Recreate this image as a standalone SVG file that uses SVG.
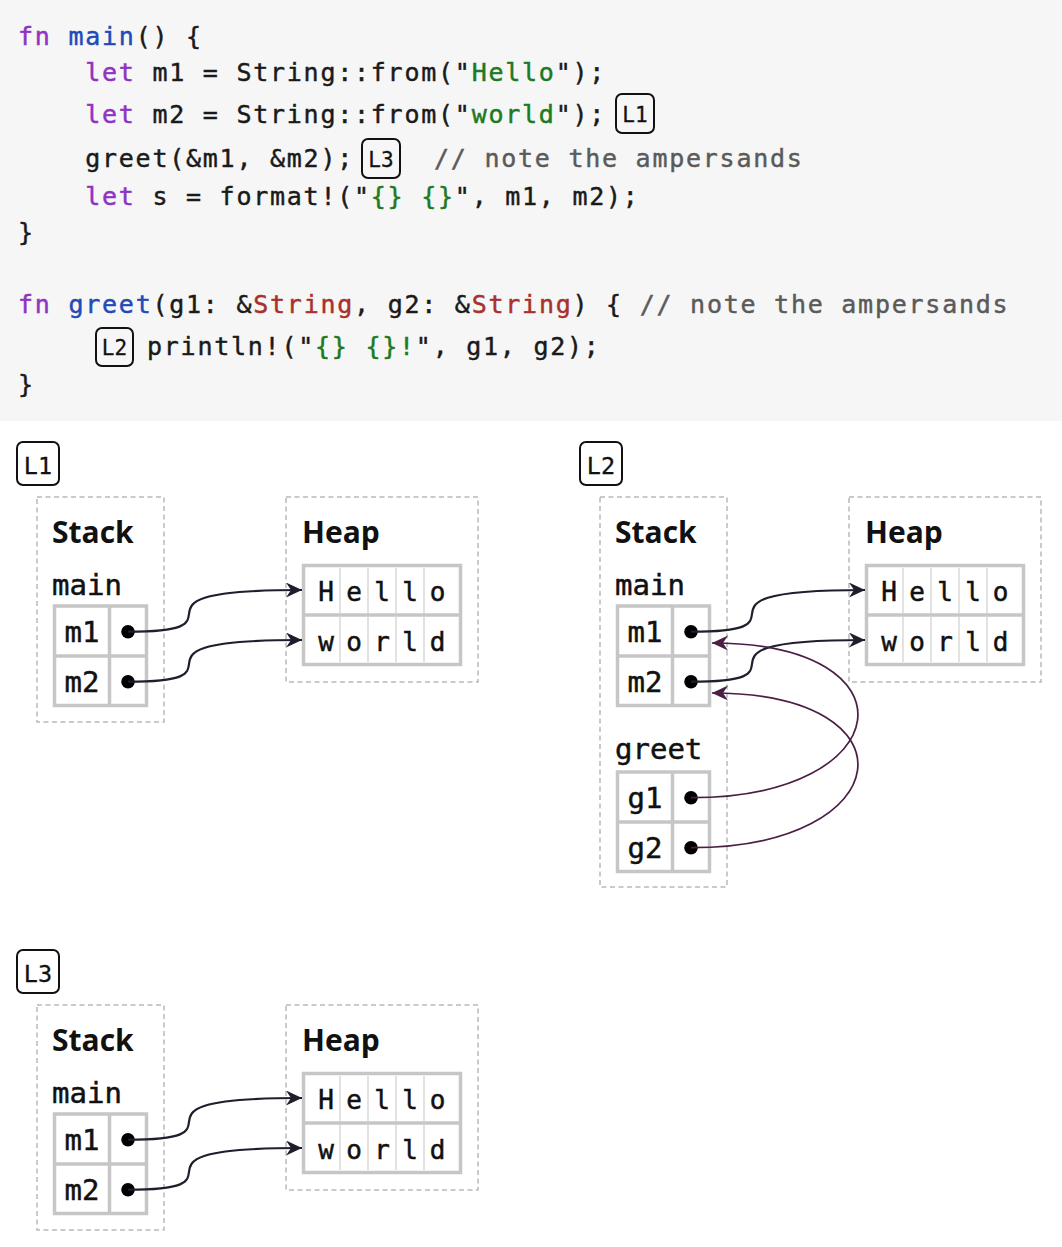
<svg xmlns="http://www.w3.org/2000/svg" width="1062" height="1247" viewBox="0 0 1062 1247">
<style>
.code{font-family:"DejaVu Sans Mono","Liberation Mono",monospace;font-size:25px;letter-spacing:1.75px;fill:#1a1a1a;stroke:#1a1a1a;stroke-width:0.45;white-space:pre}
.kw{fill:#9033c2;stroke:#9033c2}.fnn{fill:#1f4ab8;stroke:#1f4ab8}.str{fill:#1c7a22;stroke:#1c7a22}.ty{fill:#a8312b;stroke:#a8312b}.cm{fill:#5a5a5a;stroke:#5a5a5a}
.lbox{fill:none;stroke:#111;stroke-width:2}
.ltxt{font-family:"DejaVu Sans Mono","Liberation Mono",monospace;font-size:21px;fill:#111;stroke:#111;stroke-width:0.3;text-anchor:middle}
.ltxt2{font-family:"DejaVu Sans Mono","Liberation Mono",monospace;font-size:23.5px;fill:#111;stroke:#111;stroke-width:0.3;text-anchor:middle}
.region{fill:none;stroke:#b9b9b9;stroke-width:1.5;stroke-dasharray:5 3.5}
.title{font-family:"Open Sans","Noto Sans",sans-serif;font-weight:700;font-size:30px;fill:#111}
.mono{font-family:"DejaVu Sans Mono","Liberation Mono",monospace;font-size:29px;fill:#111;stroke:#111;stroke-width:0.5}
.cell{font-family:"DejaVu Sans Mono","Liberation Mono",monospace;font-size:29px;fill:#111;stroke:#111;stroke-width:0.5;text-anchor:middle}
.chr{font-family:"DejaVu Sans Mono","Liberation Mono",monospace;font-size:26px;fill:#111;stroke:#111;stroke-width:0.5;text-anchor:middle}
.tbl{fill:#fff;stroke:#c6c6c6;stroke-width:3.5}
.sep{stroke:#c6c6c6;stroke-width:3.5}
.thin{stroke:#cfcfcf;stroke-width:1.2}
.dot{fill:#000}
.fwd{fill:none;stroke:#1e1e2c;stroke-width:2.2;marker-end:url(#ah-dark)}
.back{fill:none;stroke:#4a1f44;stroke-width:1.7;marker-end:url(#ah-plum)}
</style>
<defs>
<marker id="ah-dark" markerUnits="userSpaceOnUse" markerWidth="18" markerHeight="16" refX="16" refY="7.5" orient="auto">
<path d="M0,0 L16,7.5 L0,15 L5,7.5 Z" fill="#1e1e2c"/>
</marker>
<marker id="ah-plum" markerUnits="userSpaceOnUse" markerWidth="18" markerHeight="16" refX="16" refY="7.5" orient="auto">
<path d="M0,0 L16,7.5 L0,15 L5,7.5 Z" fill="#4a1f44"/>
</marker>
</defs>
<rect x="0" y="0" width="1062" height="1247" fill="#fff"/>
<g id="code">
<rect x="0" y="0" width="1062" height="421" fill="#f6f6f6"/>
<text class="code" x="18" y="44.5"><tspan class="kw">fn</tspan> <tspan class="fnn">main</tspan>() {</text>
<text class="code" x="85.2" y="80.5"><tspan class="kw">let</tspan> m1 = String::from("<tspan class="str">Hello</tspan>");</text>
<text class="code" x="85.2" y="122.5"><tspan class="kw">let</tspan> m2 = String::from("<tspan class="str">world</tspan>");</text>
<g id="code-L1"><rect class="lbox" x="616" y="94" width="38" height="39" rx="6"/><text class="ltxt" x="635" y="121.5">L1</text></g>
<text class="code" x="85.2" y="166.5">greet(&amp;m1, &amp;m2);</text>
<g id="code-L3"><rect class="lbox" x="362" y="139" width="38" height="39" rx="6"/><text class="ltxt" x="381" y="166.5">L3</text></g>
<text class="code cm" x="434" y="166.5">// note the ampersands</text>
<text class="code" x="85.2" y="204.5"><tspan class="kw">let</tspan> s = format!("<tspan class="str">{} {}</tspan>", m1, m2);</text>
<text class="code" x="18" y="240.5">}</text>
<text class="code" x="18" y="312.5"><tspan class="kw">fn</tspan> <tspan class="fnn">greet</tspan>(g1: &amp;<tspan class="ty">String</tspan>, g2: &amp;<tspan class="ty">String</tspan>) { <tspan class="cm">// note the ampersands</tspan></text>
<g id="code-L2"><rect class="lbox" x="96" y="328" width="37" height="38" rx="6"/><text class="ltxt" x="114.5" y="354.5">L2</text></g>
<text class="code" x="147" y="354.5">println!("<tspan class="str">{} {}!</tspan>", g1, g2);</text>
<text class="code" x="18" y="392.5">}</text>
</g>

<g id="panel-L1">
<g id="L1-label"><rect class="lbox" x="17" y="442" width="42" height="43" rx="6"/><text class="ltxt2" x="38" y="474">L1</text></g>
<g id="L1-stack">
<rect class="region" x="37" y="497" width="127" height="225"/>
<text class="title" x="52" y="543">Stack</text>
<text class="mono" x="52" y="595">main</text>
<rect class="tbl" x="54.5" y="606" width="92" height="99.5"/>
<line class="sep" x1="54.5" y1="656" x2="146.5" y2="656"/>
<line class="sep" x1="109.5" y1="606" x2="109.5" y2="705.5"/>
<text class="cell" x="82" y="641.5">m1</text><text class="cell" x="82" y="691.5">m2</text>
<circle class="dot" cx="128" cy="631.7" r="6.8"/><circle class="dot" cx="128" cy="681.7" r="6.8"/>
</g>
<g id="L1-heap">
<rect class="region" x="286" y="497" width="192" height="185"/>
<text class="title" x="302" y="543">Heap</text>
<rect class="tbl" x="303.5" y="565.5" width="157" height="99"/>
<line class="sep" x1="303.5" y1="615" x2="460.5" y2="615"/>
<g class="thin"><line x1="340" y1="568" x2="340" y2="613"/><line x1="368" y1="568" x2="368" y2="613"/><line x1="396" y1="568" x2="396" y2="613"/><line x1="424" y1="568" x2="424" y2="613"/>
<line x1="340" y1="617" x2="340" y2="662"/><line x1="368" y1="617" x2="368" y2="662"/><line x1="396" y1="617" x2="396" y2="662"/><line x1="424" y1="617" x2="424" y2="662"/></g>
<text class="chr" y="600.5"><tspan x="326">H</tspan><tspan x="354">e</tspan><tspan x="382">l</tspan><tspan x="410">l</tspan><tspan x="437.5">o</tspan></text>
<text class="chr" y="650.5"><tspan x="326">w</tspan><tspan x="354">o</tspan><tspan x="382">r</tspan><tspan x="410">l</tspan><tspan x="437.5">d</tspan></text>
</g>
</g>

<g id="panel-L2" transform="translate(563,0)">
<g id="L2-label"><rect class="lbox" x="17" y="442" width="42" height="43" rx="6"/><text class="ltxt2" x="38" y="474">L2</text></g>
<g id="L2-stack">
<rect class="region" x="37" y="497" width="127" height="390"/>
<text class="title" x="52" y="543">Stack</text>
<text class="mono" x="52" y="595">main</text>
<rect class="tbl" x="54.5" y="606" width="92" height="99.5"/>
<line class="sep" x1="54.5" y1="656" x2="146.5" y2="656"/>
<line class="sep" x1="109.5" y1="606" x2="109.5" y2="705.5"/>
<text class="cell" x="82" y="641.5">m1</text><text class="cell" x="82" y="691.5">m2</text>
<circle class="dot" cx="128" cy="631.7" r="6.8"/><circle class="dot" cx="128" cy="681.7" r="6.8"/>
<text class="mono" x="52" y="759">greet</text>
<rect class="tbl" x="54.5" y="772" width="92" height="99.5"/>
<line class="sep" x1="54.5" y1="822" x2="146.5" y2="822"/>
<line class="sep" x1="109.5" y1="772" x2="109.5" y2="871.5"/>
<text class="cell" x="82" y="807.5">g1</text><text class="cell" x="82" y="857.5">g2</text>
<circle class="dot" cx="128" cy="797.7" r="6.8"/><circle class="dot" cx="128" cy="847.7" r="6.8"/>
</g>
<g id="L2-heap">
<rect class="region" x="286" y="497" width="192" height="185"/>
<text class="title" x="302" y="543">Heap</text>
<rect class="tbl" x="303.5" y="565.5" width="157" height="99"/>
<line class="sep" x1="303.5" y1="615" x2="460.5" y2="615"/>
<g class="thin"><line x1="340" y1="568" x2="340" y2="613"/><line x1="368" y1="568" x2="368" y2="613"/><line x1="396" y1="568" x2="396" y2="613"/><line x1="424" y1="568" x2="424" y2="613"/>
<line x1="340" y1="617" x2="340" y2="662"/><line x1="368" y1="617" x2="368" y2="662"/><line x1="396" y1="617" x2="396" y2="662"/><line x1="424" y1="617" x2="424" y2="662"/></g>
<text class="chr" y="600.5"><tspan x="326">H</tspan><tspan x="354">e</tspan><tspan x="382">l</tspan><tspan x="410">l</tspan><tspan x="437.5">o</tspan></text>
<text class="chr" y="650.5"><tspan x="326">w</tspan><tspan x="354">o</tspan><tspan x="382">r</tspan><tspan x="410">l</tspan><tspan x="437.5">d</tspan></text>
</g>
</g>

<g id="panel-L3" transform="translate(0,508)">
<g id="L3-label"><rect class="lbox" x="17" y="442" width="42" height="43" rx="6"/><text class="ltxt2" x="38" y="474">L3</text></g>
<g id="L3-stack">
<rect class="region" x="37" y="497" width="127" height="225"/>
<text class="title" x="52" y="543">Stack</text>
<text class="mono" x="52" y="595">main</text>
<rect class="tbl" x="54.5" y="606" width="92" height="99.5"/>
<line class="sep" x1="54.5" y1="656" x2="146.5" y2="656"/>
<line class="sep" x1="109.5" y1="606" x2="109.5" y2="705.5"/>
<text class="cell" x="82" y="641.5">m1</text><text class="cell" x="82" y="691.5">m2</text>
<circle class="dot" cx="128" cy="631.7" r="6.8"/><circle class="dot" cx="128" cy="681.7" r="6.8"/>
</g>
<g id="L3-heap">
<rect class="region" x="286" y="497" width="192" height="185"/>
<text class="title" x="302" y="543">Heap</text>
<rect class="tbl" x="303.5" y="565.5" width="157" height="99"/>
<line class="sep" x1="303.5" y1="615" x2="460.5" y2="615"/>
<g class="thin"><line x1="340" y1="568" x2="340" y2="613"/><line x1="368" y1="568" x2="368" y2="613"/><line x1="396" y1="568" x2="396" y2="613"/><line x1="424" y1="568" x2="424" y2="613"/>
<line x1="340" y1="617" x2="340" y2="662"/><line x1="368" y1="617" x2="368" y2="662"/><line x1="396" y1="617" x2="396" y2="662"/><line x1="424" y1="617" x2="424" y2="662"/></g>
<text class="chr" y="600.5"><tspan x="326">H</tspan><tspan x="354">e</tspan><tspan x="382">l</tspan><tspan x="410">l</tspan><tspan x="437.5">o</tspan></text>
<text class="chr" y="650.5"><tspan x="326">w</tspan><tspan x="354">o</tspan><tspan x="382">r</tspan><tspan x="410">l</tspan><tspan x="437.5">d</tspan></text>
</g>
</g>

<g id="connectors">
<path class="fwd" d="M128,631.7 C259,631.7 103,590 302,590"/>
<path class="fwd" d="M128,681.7 C259,681.7 103,640 302,640"/>
<path class="fwd" d="M691,631.7 C822,631.7 666,590 865,590"/>
<path class="fwd" d="M691,681.7 C822,681.7 666,640 865,640"/>
<path class="back" d="M691,797.7 C899,797.7 920,643 712,643"/>
<path class="back" d="M691,847.7 C899,847.7 920,693 712,693"/>
<path class="fwd" d="M128,1139.7 C259,1139.7 103,1098 302,1098"/>
<path class="fwd" d="M128,1189.7 C259,1189.7 103,1148 302,1148"/>
</g>
</svg>
